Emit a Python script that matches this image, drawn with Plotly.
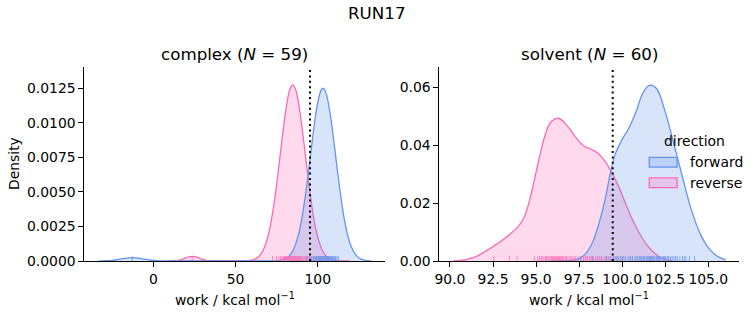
import plotly.graph_objects as go

# ---------------- data ----------------
SUPTITLE = "RUN17"
PHASES = ["complex", "solvent"]
N_PER_PHASE = [59, 60]
DIRECTIONS = ["forward", "reverse"]
COLORS = {"forward": "#6495ED", "reverse": "#FF69B4"}
FILLS = {"forward": "rgba(100,149,237,0.25)", "reverse": "rgba(255,105,180,0.25)"}

# free-energy estimate (dotted line) per phase
DG_COMPLEX = 95.3
DG_SOLVENT = 99.45

# individual work values (rug)
complex_forward_work = [
    -12.8,
    93.6, 95.1, 96.3, 97.2, 97.9, 98.5, 99.0, 99.4, 99.8, 100.2,
    100.5, 100.8, 101.1, 101.3, 101.5, 101.7, 101.9, 102.1, 102.3, 102.5,
    102.6, 102.8, 103.0, 103.1, 103.3, 103.4, 103.6, 103.7, 103.9, 104.0,
    104.2, 104.3, 104.5, 104.7, 104.8, 105.0, 105.2, 105.4, 105.6, 105.8,
    106.0, 106.3, 106.5, 106.8, 107.1, 107.4, 107.7, 108.1, 108.5, 109.0,
    109.5, 110.1, 110.8, 111.6, 112.5, 102.0, 103.5, 104.4]
complex_reverse_work = [
    23.7,
    72.5, 74.8, 76.3, 77.4, 78.3, 79.0, 79.7, 80.3, 80.8, 81.3,
    81.7, 82.1, 82.5, 82.9, 83.2, 83.5, 83.8, 84.1, 84.4, 84.6,
    84.9, 85.1, 85.4, 85.6, 85.9, 86.1, 86.4, 86.7, 87.0, 87.3,
    87.6, 87.9, 88.3, 88.7, 89.1, 89.5, 90.0, 90.5, 91.1, 91.8,
    92.6, 93.5, 94.6, 95.9, 97.4, 99.2, 101.5, 104.3, 106.2, 84.0,
    85.0, 86.0, 83.0, 88.0, 82.0, 80.0, 89.8, 93.0]
solvent_forward_work = [
    97.6, 98.3, 98.8, 99.1, 99.3, 99.5, 99.7, 99.8, 99.9, 100.0,
    100.1, 100.2, 100.35, 100.5, 100.6, 100.75, 100.9, 101.0, 101.1, 101.2,
    101.3, 101.4, 101.45, 101.5, 101.6, 101.65, 101.7, 101.8, 101.9, 102.0,
    102.05, 102.1, 102.2, 102.3, 102.4, 102.5, 102.6, 102.7, 102.8, 102.9,
    103.0, 103.1, 103.2, 103.35, 103.5, 103.7, 103.9, 104.2, 101.55, 101.25,
    100.45, 101.85, 102.15, 100.8, 102.45, 101.05, 103.6, 99.6, 102.65, 101.75]
solvent_reverse_work = [
    92.55, 93.45, 93.9, 94.9, 95.1, 95.2, 95.35, 95.45, 95.55, 95.65,
    95.75, 95.8, 95.9, 96.0, 96.05, 96.1, 96.2, 96.25, 96.3, 96.4,
    96.45, 96.5, 96.6, 96.7, 96.8, 96.9, 97.0, 97.1, 97.3, 97.45,
    97.6, 97.75, 97.9, 98.0, 98.1, 98.2, 98.3, 98.45, 98.55, 98.7,
    98.8, 98.95, 99.05, 99.2, 99.35, 99.5, 99.7, 100.0, 96.15, 95.95,
    96.35, 96.55, 97.2, 98.25, 95.6, 96.75, 97.85, 98.6, 99.1, 95.3]

# density curves
complex_forward_x = [-33, -28, -25, -20, -16, -12.8, -9, -5, -1, 3, 8, 14, 30, 50, 65, 70, 74, 78,
                     82, 85, 88, 90, 92, 94, 96, 98, 100, 102, 103.2, 104.5, 106, 108, 110, 112,
                     114, 116, 118, 120, 123, 126, 129, 132.6]
complex_forward_d = [0.000003, 0.00002, 0.000048, 0.000137, 0.000215, 0.00024, 0.000205, 0.000124,
                     0.000055, 0.000016, 0.000002, 0, 0, 0, 0, 0.000001, 0.0000094, 0.000059,
                     0.00028, 0.00077, 0.00178, 0.00288, 0.00434, 0.00612, 0.00807, 0.00995,
                     0.01147, 0.01235, 0.0125, 0.01232, 0.0117, 0.0103, 0.00846, 0.0065,
                     0.00468, 0.00314, 0.00197, 0.00116, 0.00046, 0.000156, 0.000046, 0.00001]
complex_reverse_x = [10.5, 12, 15, 18, 21, 23.7, 26, 29, 32, 35, 38, 45, 52, 56, 60, 63, 66, 69,
                     71, 73, 75, 77, 79, 81, 83, 84.8, 86.5, 88, 90, 92, 94, 96, 98, 100, 103,
                     106, 109, 112, 115, 119.5]
complex_reverse_d = [0.000001, 0.000009, 0.000046, 0.00014, 0.00028, 0.00034, 0.0003, 0.00016,
                     0.00005, 0.00001, 0, 0, 0.000001, 0.00001, 0.000062, 0.00021, 0.0006,
                     0.00147, 0.00245, 0.00382, 0.00555, 0.00752, 0.00952, 0.01124, 0.01239,
                     0.01274, 0.01242, 0.01166, 0.01008, 0.00813, 0.00612, 0.0043, 0.00281,
                     0.00172, 0.00072, 0.00026, 0.00008, 0.000021, 0.000004, 0]
solvent_forward_x = [95.8, 96.5, 97.0, 97.5, 97.9, 98.3, 98.7, 99.0, 99.3, 99.6, 100.0, 100.4,
                     100.8, 101.2, 101.6, 102.0, 102.5, 103.0, 103.5, 104.0, 104.5, 105.0,
                     105.5, 106.0]
solvent_forward_d = [0, 0.00003, 0.0002, 0.0008, 0.0027, 0.0067, 0.0140, 0.0210, 0.0300, 0.0370,
                     0.0420, 0.0460, 0.0515, 0.0580, 0.0607, 0.0595, 0.0515, 0.0405, 0.0290,
                     0.0180, 0.0098, 0.0046, 0.0017, 0.0004]
solvent_reverse_x = [90.2, 90.6, 91.0, 91.5, 92.0, 92.5, 93.0, 93.5, 94.0, 94.3, 94.6, 94.9,
                     95.2, 95.5, 95.8, 96.1, 96.3, 96.6, 97.0, 97.4, 97.8, 98.2, 98.6, 99.0,
                     99.4, 99.8, 100.2, 100.6, 101.0, 101.4, 101.8, 102.2, 102.6, 102.9]
solvent_reverse_d = [0.0, 0.0002, 0.0006, 0.0015, 0.0031, 0.0050, 0.0070, 0.0093, 0.0122, 0.0150,
                     0.0205, 0.0280, 0.0360, 0.0430, 0.0475, 0.0491, 0.0493, 0.0481, 0.0452,
                     0.0420, 0.0396, 0.0386, 0.0372, 0.0345, 0.0305, 0.0256, 0.0198, 0.0142,
                     0.0096, 0.0058, 0.0031, 0.0013, 0.0003, 0.0]

complex_xticks = [0, 50, 100]
complex_yticks = [0.0, 0.0025, 0.005, 0.0075, 0.01, 0.0125]
solvent_xticks = [90.0, 92.5, 95.0, 97.5, 100.0, 102.5, 105.0]
solvent_yticks = [0.0, 0.02, 0.04, 0.06]

# ---------------- styling / layout ----------------
W, H = 753, 325
FONT = "DejaVu Sans"
TICK_PX = 13.9
TITLE_PX = 16.7
RUG_FRAC = 0.025

COMPLEX_XRANGE = [-41.97, 140.9]
COMPLEX_YRANGE = [0, 0.01406]
SOLVENT_XRANGE = [89.38, 106.8]
SOLVENT_YRANGE = [0, 0.0671]


def px_x(p):
    return p / W


def px_y(p):
    return (H - p) / H


fig = go.Figure()

panels = [
    ("x", "y", COMPLEX_YRANGE,
     {"forward": (complex_forward_x, complex_forward_d, complex_forward_work),
      "reverse": (complex_reverse_x, complex_reverse_d, complex_reverse_work)}),
    ("x2", "y2", SOLVENT_YRANGE,
     {"forward": (solvent_forward_x, solvent_forward_d, solvent_forward_work),
      "reverse": (solvent_reverse_x, solvent_reverse_d, solvent_reverse_work)}),
]

for xa, ya, yr, series in panels:
    # KDE layers: reverse first, forward on top (seaborn draws hue levels reversed)
    for direction in ["reverse", "forward"]:
        xs, ds, _ = series[direction]
        fig.add_trace(go.Scatter(
            x=xs, y=ds, mode="lines", xaxis=xa, yaxis=ya,
            line=dict(color=COLORS[direction], width=1.3, shape="spline", smoothing=1.0),
            fill="tozeroy", fillcolor=FILLS[direction],
            name=direction, showlegend=False, hoverinfo="skip"))
    # rug
    rug_h = RUG_FRAC * (yr[1] - yr[0])
    for direction in ["reverse", "forward"]:
        _, _, w = series[direction]
        rx, ry = [], []
        for v in w:
            rx += [v, v, None]
            ry += [0, rug_h, None]
        fig.add_trace(go.Scatter(
            x=rx, y=ry, mode="lines", xaxis=xa, yaxis=ya,
            line=dict(color=COLORS[direction], width=1),
            opacity=0.8, showlegend=False, hoverinfo="skip"))

axis_common = dict(
    automargin=False,
    showline=True, linecolor="black", linewidth=1.1, mirror=False,
    ticks="outside", ticklen=4.9, tickwidth=1.1, tickcolor="black",
    showgrid=False, zeroline=False,
    tickfont=dict(family=FONT, size=TICK_PX, color="black"),
)

fig.update_layout(
    template="none",
    width=W, height=H, autosize=False,
    margin=dict(l=0, r=0, t=0, b=0, pad=0),
    paper_bgcolor="white", plot_bgcolor="white",
    font=dict(family=FONT, color="black"),
    showlegend=False,
    xaxis=dict(domain=[px_x(84.3), px_x(385.0)], range=COMPLEX_XRANGE,
               tickvals=complex_xticks, ticktext=[str(t) for t in complex_xticks],
               anchor="y", **axis_common),
    yaxis=dict(domain=[px_y(261.0), px_y(66.7)], range=COMPLEX_YRANGE,
               tickvals=complex_yticks, ticktext=[f"{t:.4f}" for t in complex_yticks],
               anchor="x", **axis_common),
    xaxis2=dict(domain=[px_x(439.3), px_x(739.3)], range=SOLVENT_XRANGE,
                tickvals=solvent_xticks, ticktext=[f"{t:.1f}" for t in solvent_xticks],
                anchor="y2", **axis_common),
    yaxis2=dict(domain=[px_y(261.0), px_y(66.7)], range=SOLVENT_YRANGE,
                tickvals=solvent_yticks, ticktext=[f"{t:.2f}" for t in solvent_yticks],
                anchor="x2", **axis_common),
)

# dotted free-energy lines
for xa, val in [("x", DG_COMPLEX), ("x2", DG_SOLVENT)]:
    fig.add_shape(type="line", xref=xa, yref=("y" if xa == "x" else "y2") + " domain",
                  x0=val, x1=val, y0=0, y1=1,
                  line=dict(color="black", width=2, dash="2px,3.4px"))

# titles and labels
ann = []
ann.append(dict(text=SUPTITLE, x=0.5, y=px_y(13), xref="paper", yref="paper",
                showarrow=False, xanchor="center", yanchor="middle",
                font=dict(family=FONT, size=TITLE_PX, color="black")))
for cx, phase, n in [(234.7, PHASES[0], N_PER_PHASE[0]), (589.3, PHASES[1], N_PER_PHASE[1])]:
    ann.append(dict(text=f"{phase} (<i>N</i> = {n})", x=px_x(cx), y=px_y(54),
                    xref="paper", yref="paper", showarrow=False,
                    xanchor="center", yanchor="middle",
                    font=dict(family=FONT, size=TITLE_PX, color="black")))
    ann.append(dict(text="work / kcal mol<sup>−1</sup>", x=px_x(cx), y=px_y(299),
                    xref="paper", yref="paper", showarrow=False,
                    xanchor="center", yanchor="middle",
                    font=dict(family=FONT, size=TICK_PX, color="black")))
ann.append(dict(text="Density", x=px_x(14), y=px_y(164), xref="paper", yref="paper",
                showarrow=False, textangle=-90, xanchor="center", yanchor="middle",
                font=dict(family=FONT, size=TICK_PX, color="black")))

# legend (drawn manually, frameless like the original)
ann.append(dict(text="direction", x=px_x(694.5), y=px_y(141), xref="paper", yref="paper",
                showarrow=False, xanchor="center", yanchor="middle",
                font=dict(family=FONT, size=TICK_PX, color="black")))
for direction, cy in [("forward", 162.3), ("reverse", 182.8)]:
    fig.add_shape(type="rect", xref="paper", yref="paper",
                  x0=px_x(649.3), x1=px_x(677.1), y0=px_y(cy + 4.9), y1=px_y(cy - 4.9),
                  fillcolor=FILLS[direction], line=dict(color=COLORS[direction], width=1.3))
    ann.append(dict(text=direction, x=px_x(688.3), y=px_y(cy), xref="paper", yref="paper",
                    showarrow=False, xanchor="left", yanchor="middle",
                    font=dict(family=FONT, size=TICK_PX, color="black")))

fig.update_layout(annotations=ann)
fig.write_html("out.html")
